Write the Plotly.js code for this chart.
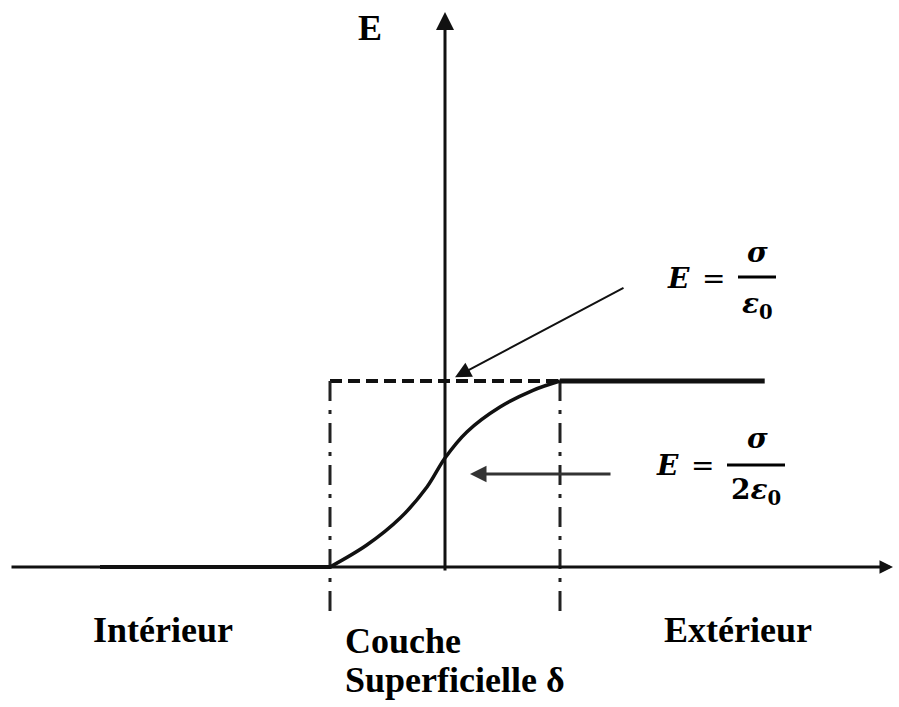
<!DOCTYPE html>
<html>
<head>
<meta charset="utf-8">
<script src="https://cdn.plot.ly/plotly-3.0.1.min.js"></script>
<style>
  html, body { margin: 0; padding: 0; background: #fff; }
  #chart { width: 899px; height: 707px; }
</style>
</head>
<body>
<div id="chart"></div>
<script>
// Field E across a charged conductor surface: zero inside, sigma/eps0 outside,
// rising smoothly through the surface layer of thickness delta (x from -1 to 1).
const interiorX = [-3.0, -1];
const interiorE = [0, 0];
const layerX = [-1, -0.68, -0.39, -0.157, 0, 0.19, 0.478, 0.765, 1];
const layerE = [0, 0.118, 0.263, 0.43, 0.586, 0.726, 0.86, 0.95, 1];
const exteriorX = [1, 2.78];
const exteriorE = [1, 1];
const layerEdges = [-1, 1];
const fullE = 1;      // sigma / eps0
const halfE = 0.5;    // sigma / (2 eps0)
const labels = {
  axis: 'E',
  inside: 'Intérieur',
  layer1: 'Couche',
  layer2: 'Superficielle δ',
  outside: 'Extérieur'
};

// scale: one unit of x = 115 px, one unit of E = 186 px, origin at (445, 567)
const W = 899, H = 707, X0 = 445, Y0 = 567, SX = 115, SY = 186;
const px = p => (p - X0) / SX;
const py = p => (Y0 - p) / SY;

const ink = '#111';
const serif = 'Liberation Serif';
const mathFont = 'DejaVu Serif';

const traces = [
  { x: interiorX, y: interiorE, mode: 'lines', line: { color: ink, width: 4 }, hoverinfo: 'skip' },
  { x: layerX, y: layerE, mode: 'lines', line: { color: ink, width: 3.5, shape: 'spline' }, hoverinfo: 'skip' },
  { x: exteriorX, y: exteriorE, mode: 'lines', line: { color: ink, width: 5 }, hoverinfo: 'skip' }
];

const shapes = [
  // dashed top of the surface layer
  { type: 'line', xref: 'x', yref: 'y', x0: layerEdges[0], x1: layerEdges[1], y0: fullE, y1: fullE,
    line: { color: ink, width: 4, dash: '12px,6px' }, layer: 'below' },
  // dash-dot borders of the layer
  ...layerEdges.map(xe => ({ type: 'line', xref: 'x', yref: 'y', x0: xe, x1: xe, y0: fullE, y1: py(612),
    line: { color: '#222', width: 3, dash: '20px,9px,4px,9px' }, layer: 'below' })),
  // fraction bars
  { type: 'line', xref: 'x', yref: 'y', x0: px(738), x1: px(776), y0: py(277), y1: py(277), line: { color: '#000', width: 3 } },
  { type: 'line', xref: 'x', yref: 'y', x0: px(727), x1: px(785), y0: py(465), y1: py(465), line: { color: '#000', width: 3 } }
];

function arrow(x, y, ax, ay, width, size, color) {
  return { x, y, ax, ay, xref: 'x', yref: 'y', axref: 'x', ayref: 'y', text: '',
    showarrow: true, arrowhead: 2, arrowwidth: width, arrowsize: size, arrowcolor: color, standoff: 0 };
}
function txt(text, xp, yp, size, opts, family) {
  return Object.assign({ x: px(xp), y: py(yp), xref: 'x', yref: 'y', text, showarrow: false,
    font: { family: family || serif, size, color: '#000' }, xanchor: 'center', yanchor: 'middle' }, opts || {});
}

const annotations = [
  // axes
  arrow(px(893), 0, px(10), 0, 3, 0.9, ink),
  arrow(0, py(12), 0, py(572), 3, 1.2, ink),
  // pointers to the two field values
  arrow(px(455), fullE * 1.02, px(625), py(287), 2, 1.6, ink),
  arrow(px(470), halfE, px(612), halfE, 3, 1.1, '#333'),
  // labels
  txt('<b>' + labels.axis + '</b>', 370, 28, 36),
  txt('<b>' + labels.inside + '</b>', 163, 630, 36),
  txt('<b>' + labels.layer1 + '</b>', 343, 641, 36, { xanchor: 'left' }),
  txt('<b>' + labels.layer2 + '</b>', 343, 680, 36, { xanchor: 'left' }),
  txt('<b>' + labels.outside + '</b>', 738, 630, 36),
  // E = sigma / eps0
  txt('<b><i>E</i></b>', 678, 278, 28, null, mathFont),
  txt('=', 713, 278, 28, null, mathFont),
  txt('<b><i>σ</i></b>', 757, 252, 28, null, mathFont),
  txt('<b><i>ε</i><sub>0</sub></b>', 757, 305, 28, null, mathFont),
  // E = sigma / (2 eps0)
  txt('<b><i>E</i></b>', 667, 465, 28, null, mathFont),
  txt('=', 702, 465, 28, null, mathFont),
  txt('<b><i>σ</i></b>', 757, 438, 28, null, mathFont),
  txt('<b>2<i>ε</i><sub>0</sub></b>', 756, 491, 28, null, mathFont)
];

const layout = {
  width: W, height: H,
  margin: { l: 0, r: 0, t: 0, b: 0, pad: 0 },
  paper_bgcolor: '#fff', plot_bgcolor: '#fff',
  showlegend: false,
  xaxis: { range: [px(0), px(W)], visible: false, fixedrange: true },
  yaxis: { range: [py(H), py(0)], visible: false, fixedrange: true },
  shapes, annotations
};

Plotly.newPlot('chart', traces, layout, { staticPlot: true, displayModeBar: false });
</script>
</body>
</html>
